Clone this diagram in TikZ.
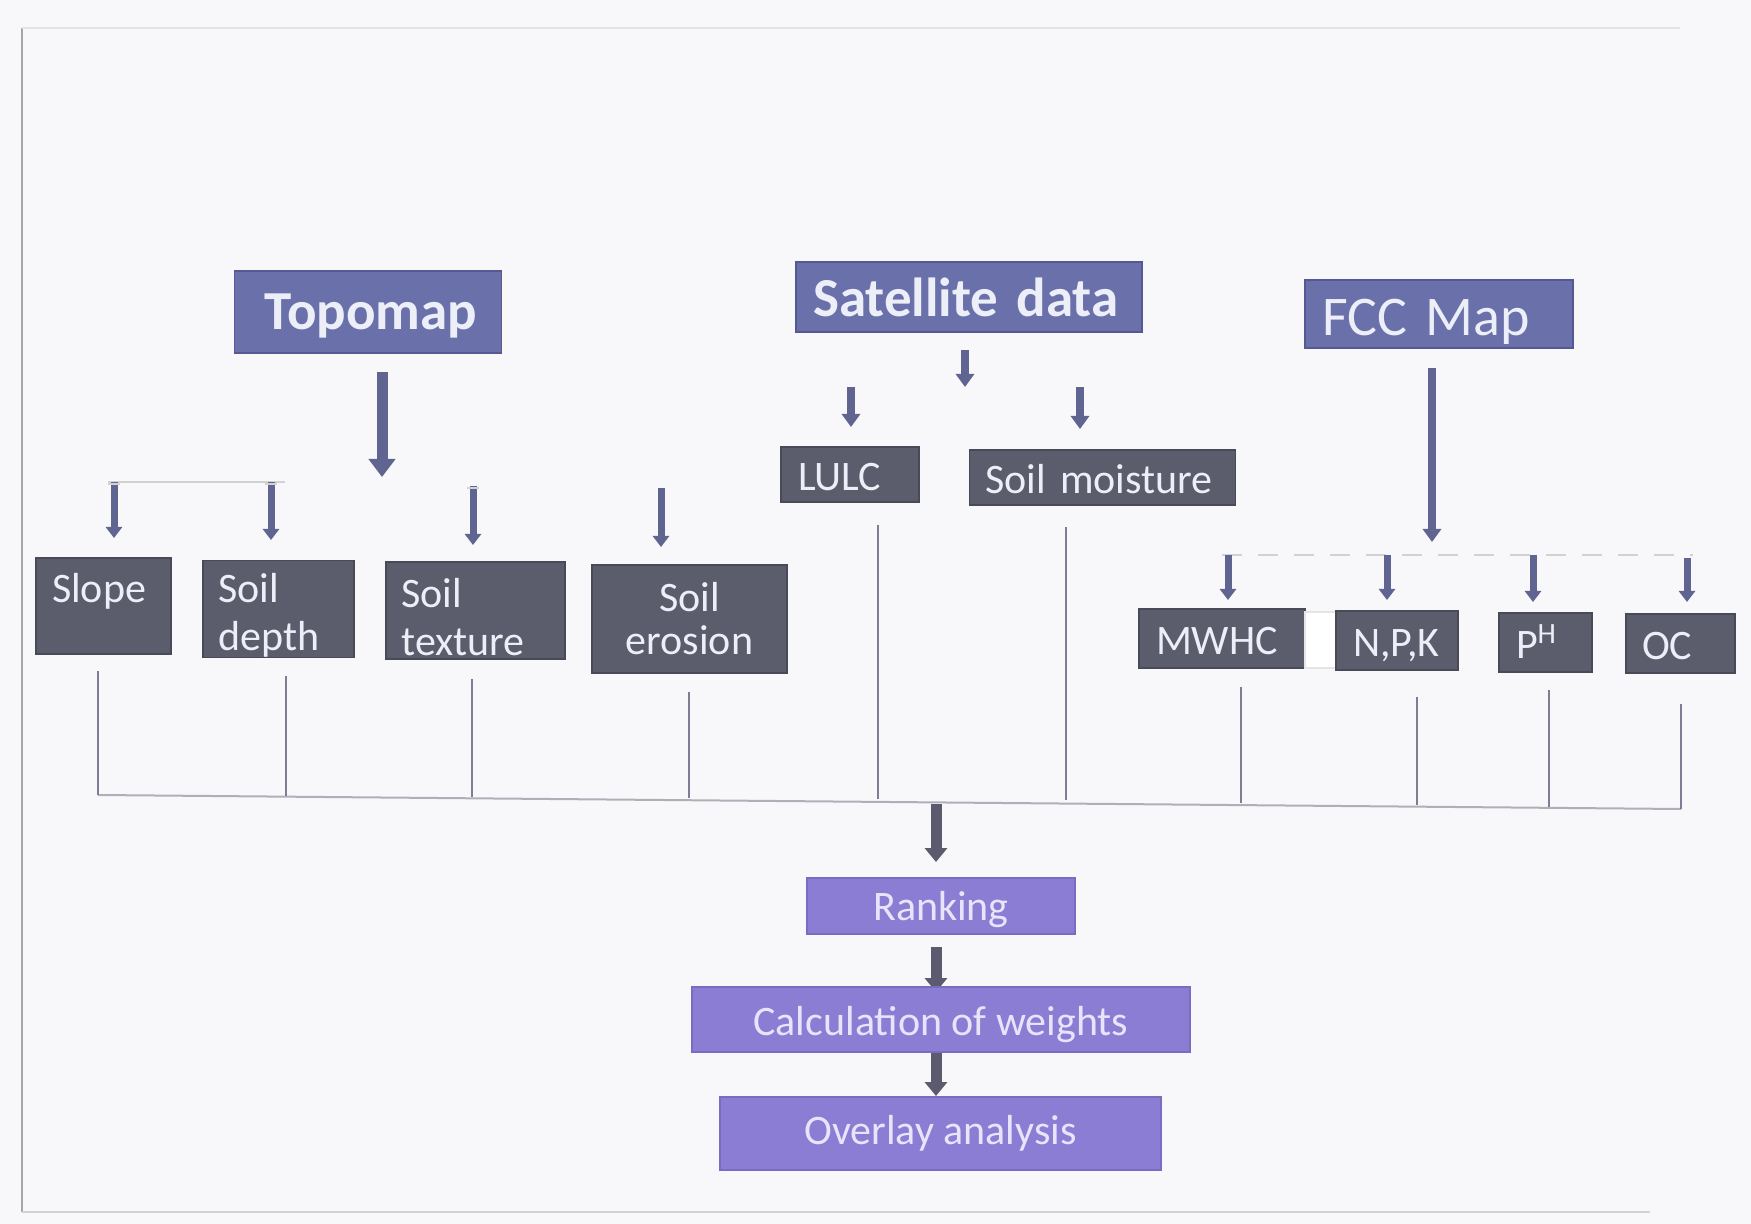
\documentclass[tikz,border=0pt]{standalone}
\usepackage{fontspec}
\setmainfont{Carlito}
\usetikzlibrary{arrows.meta}
\definecolor{bg}{RGB}{248,248,250}
\definecolor{hdr}{RGB}{106,112,170}
\definecolor{hdrd}{RGB}{84,90,145}
\definecolor{gbox}{RGB}{92,93,108}
\definecolor{gboxd}{RGB}{72,74,88}
\definecolor{pbox}{RGB}{140,125,212}
\definecolor{pboxd}{RGB}{122,108,192}
\definecolor{arr}{RGB}{96,100,145}
\definecolor{arrd}{RGB}{92,90,110}
\definecolor{lnk}{RGB}{125,125,148}
\definecolor{bus}{RGB}{175,175,185}
\definecolor{txtw}{RGB}{236,238,248}
\definecolor{txtp}{RGB}{232,228,252}
\newcommand{\lowr}[2]{\raisebox{-#1}[\height][\depth]{#2}}
\begin{document}
\begin{tikzpicture}[x=0.5pt,y=-0.5pt,
  hdrbox/.style={fill=hdr, draw=hdrd, line width=0.8pt, text=txtw, inner ysep=0pt},
  gbox/.style={fill=gbox, draw=gboxd, line width=0.8pt, text=txtw, inner ysep=0pt,
    align=left, font=\fontsize{21}{24}\selectfont},
  oneline/.style={text height=20pt, text depth=4pt},
  twoline/.style={text height=21pt},
  pbox/.style={fill=pbox, draw=pboxd, line width=0.6pt, text=txtp, inner sep=0pt,
    font=\fontsize{21}{24}\selectfont},
  bigarr/.style={draw=arr, line width=5.5pt, -{Triangle[width=13pt,length=9pt]}},
  midarr/.style={draw=arr, line width=4pt, -{Triangle[width=9pt,length=6.5pt]}},
  smallarr/.style={draw=arr, line width=3.5pt, -{Triangle[width=8pt,length=5.5pt]}},
  botarr/.style={draw=arrd, line width=5.5pt, -{Triangle[width=11pt,length=7pt]}},
  vline/.style={draw=lnk, line width=1pt},
  busline/.style={draw=bus, line width=1pt},
  faint/.style={draw=gray!35, line width=0.8pt}
]
% background and frame
\fill[bg] (0,0) rectangle (1751,1224);
\useasboundingbox (0,0) rectangle (1751,1224);
\draw[draw=gray!70, line width=1pt] (22,28) -- (22,1212);
\draw[draw=gray!22, line width=1pt] (22,28) -- (1680,28);
\draw[draw=gray!35, line width=1pt] (22,1212) -- (1650,1212);

% arrows through the bottom chain (behind the boxes)
\coordinate (b1s) at (936,804);
\coordinate (b1e) at (936,862);
\coordinate (b2s) at (936,947);
\coordinate (b2e) at (936,992);
\coordinate (b3s) at (936,1050);
\coordinate (b3e) at (936,1096);
\draw[botarr] (b2s) -- (b2e);
\draw[botarr] (b3s) -- (b3e);

% header boxes
\node[hdrbox, minimum width=133.5pt, minimum height=41pt, inner xsep=0pt,
  font=\fontsize{27.5}{30}\selectfont\bfseries] (topo) at (368,312) {\hspace{3pt}\lowr{2pt}{Topomap}};
\node[hdrbox, minimum height=35pt, text width=156pt, inner xsep=8.5pt, align=left,
  font=\fontsize{27.5}{30}\selectfont\bfseries] (sat) at (969,297) {Satellite data};
\node[hdrbox, minimum height=34pt, text width=117pt, inner xsep=8.5pt, align=left,
  font=\fontsize{28}{30}\selectfont] (fcc) at (1439,314) {\lowr{4pt}{FCC Map}};

% satellite children
\node[gbox, oneline, minimum height=27.5pt, text width=52pt, inner xsep=8.5pt] (lulc) at (850,474.5) {LULC};
\node[gbox, oneline, minimum height=27.5pt, text width=117pt, inner xsep=8pt] (sm) at (1102.5,477.5) {Soil moisture};

% topomap children
\node[gbox, twoline, minimum height=48pt, text width=51.5pt, inner xsep=8pt] (slope) at (103.5,606) {Slope\\\mbox{}};
\node[gbox, twoline, minimum height=48pt, text width=60pt, inner xsep=7.75pt] (depth) at (278.5,609) {Soil\\depth};
\node[gbox, twoline, minimum height=48.5pt, text width=74pt, inner xsep=7.75pt] (texture) at (475.5,610.5) {Soil\\texture};
\node[gbox, minimum height=54pt, text width=81.5pt, inner xsep=8pt, align=center,
  font=\fontsize{21}{21.5}\selectfont] (erosion) at (689.5,619) {Soil\\erosion};

% fcc children
\node[gbox, oneline, minimum height=29.5pt, text width=66pt, inner xsep=8.5pt] (mwhc) at (1222,638.5) {MWHC};
\fill[white] (1305,612) rectangle (1336,668);
\draw[draw=gray!20, line width=0.6pt] (1305,612) rectangle (1336,668);
\node[gbox, oneline, minimum height=29.5pt, text width=44pt, inner xsep=8.5pt] (npk) at (1397,640.5) {N,P,K};
\node[gbox, oneline, minimum height=29.5pt, text width=29.5pt, inner xsep=8.5pt] (ph) at (1545.5,642.5) {P\textsuperscript{H}};
\node[gbox, oneline, minimum height=29.5pt, text width=38.5pt, inner xsep=8pt] (oc) at (1680.5,643.5) {OC};

% bottom chain
\node[pbox, minimum width=134pt, minimum height=28pt] (rank) at (941,906) {\lowr{2pt}{Ranking}};
\node[pbox, minimum width=249pt, minimum height=32.5pt] (calc) at (941,1019.5) {\lowr{2.5pt}{Calculation of weights}};
\node[pbox, minimum width=220.5pt, minimum height=36.5pt] (overlay) at (940.5,1133.5) {Overlay analysis};

% header arrows
\coordinate (t1) at (382,372);
\coordinate (t2) at (382,477);
\draw[bigarr] (t1) -- (t2);
\coordinate (s1) at (965,350);
\coordinate (s2) at (965,387);
\draw[midarr] (s1) -- (s2);
\coordinate (l1) at (851,387);
\coordinate (l2) at (851,427);
\draw[midarr] (l1) -- (l2);
\coordinate (m1) at (1080,387);
\coordinate (m2) at (1080,429);
\draw[midarr] (m1) -- (m2);
\coordinate (f1) at (1432,368);
\coordinate (f2) at (1432,542);
\draw[midarr] (f1) -- (f2);

% faint remnants of distribution lines
\draw[faint] (108,482) -- (285,482);
\draw[faint, dash pattern=on 10pt off 8pt] (1222,555) -- (1693,555);

% topomap child arrows
\coordinate (a1) at (114,482);   \coordinate (a1e) at (114,538);
\coordinate (a2) at (271,482);   \coordinate (a2e) at (271,540);
\coordinate (a3) at (473,486);   \coordinate (a3e) at (473,545);
\coordinate (a4) at (661,488);   \coordinate (a4e) at (661,547);
\draw[smallarr] (a1) -- (a1e);
\draw[smallarr] (a2) -- (a2e);
\draw[smallarr] (a3) -- (a3e);
\draw[smallarr] (a4) -- (a4e);
\draw[faint] (108,484) -- (120,484) (265,484) -- (277,484) (467,488) -- (479,488);

% fcc child arrows
\coordinate (c1) at (1228,555);  \coordinate (c1e) at (1228,600);
\coordinate (c2) at (1387,555);  \coordinate (c2e) at (1387,600);
\coordinate (c3) at (1533,555);  \coordinate (c3e) at (1533,602);
\coordinate (c4) at (1687,558);  \coordinate (c4e) at (1687,602);
\draw[smallarr] (c1) -- (c1e);
\draw[smallarr] (c2) -- (c2e);
\draw[smallarr] (c3) -- (c3e);
\draw[smallarr] (c4) -- (c4e);

% collector lines to the bus
\coordinate (v1) at (98,671);    \coordinate (w1) at (98,795);
\coordinate (v2) at (286,676);   \coordinate (w2) at (286,796);
\coordinate (v3) at (472,679);   \coordinate (w3) at (472,797);
\coordinate (v4) at (689,692);   \coordinate (w4) at (689,798);
\coordinate (v5) at (878,525);   \coordinate (w5) at (878,799);
\coordinate (v6) at (1066,527);  \coordinate (w6) at (1066,800);
\coordinate (v7) at (1241,687);  \coordinate (w7) at (1241,803);
\coordinate (v8) at (1417,697);  \coordinate (w8) at (1417,805);
\coordinate (v9) at (1549,690);  \coordinate (w9) at (1549,807);
\coordinate (v10) at (1681,704); \coordinate (w10) at (1681,809);
\draw[busline] (w1) -- (w10);
\foreach \i in {1,...,10} { \draw[vline] (v\i) -- (w\i); }

% arrow from bus to ranking
\draw[botarr] (b1s) -- (b1e);
\end{tikzpicture}
\end{document}
